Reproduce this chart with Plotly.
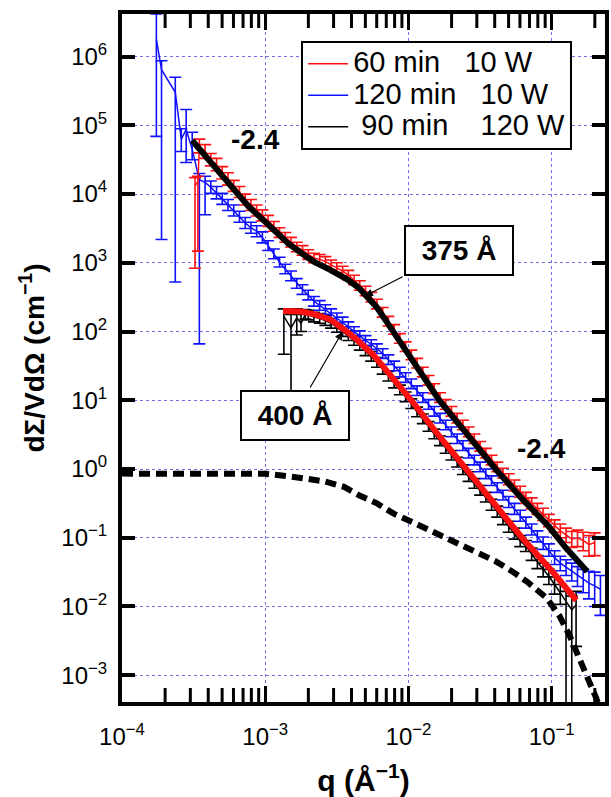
import numpy as np
import plotly.graph_objects as go

FONT = "Liberation Sans, Arial, Helvetica, sans-serif"

# All values below are log10 of q (1/Angstrom) and log10 of dSigma/VdOmega (1/cm).
# Error bar limits are given as decades above / below each point.

# ---- 60 min, 10 W ----
red_logq = [-3.49, -3.47, -3.46, -3.42, -3.38, -3.34, -3.30, -3.26, -3.22, -3.18, -3.14, -3.10,
            -3.06, -3.02, -2.98, -2.94, -2.90, -2.86, -2.82, -2.78, -2.74, -2.70, -2.66, -2.62,
            -2.58, -2.54, -2.50, -2.46, -2.42, -2.38, -2.34, -2.30, -2.26, -2.22, -2.18, -2.14,
            -2.10, -2.06, -2.02, -1.98, -1.94, -1.90, -1.86, -1.82, -1.78, -1.74, -1.70, -1.66,
            -1.62, -1.58, -1.54, -1.50, -1.46, -1.42, -1.38, -1.34, -1.30, -1.26, -1.22, -1.18,
            -1.14, -1.10, -1.06, -1.02, -0.98, -0.94, -0.90, -0.86, -0.82, -0.78, -0.74, -0.70]
red_logI = [4.12, 4.18, 4.70, 4.62, 4.50, 4.43, 4.31, 4.22, 4.12, 4.03, 3.92, 3.84,
            3.76, 3.69, 3.61, 3.53, 3.44, 3.37, 3.30, 3.23, 3.18, 3.12, 3.07, 3.05,
            3.02, 2.97, 2.93, 2.88, 2.82, 2.75, 2.67, 2.59, 2.50, 2.40, 2.28, 2.15,
            2.03, 1.90, 1.78, 1.66, 1.54, 1.41, 1.29, 1.17, 1.04, 0.94, 0.84, 0.74,
            0.64, 0.54, 0.44, 0.33, 0.23, 0.13, 0.03, -0.06, -0.15, -0.24, -0.33, -0.42,
            -0.50, -0.58, -0.66, -0.75, -0.83, -0.90, -0.96, -1.02, -1.00, -1.04, -1.10, -1.07]
red_eplus = [0.12, 0.08, 0.10, 0.10, 0.09, 0.09, 0.09, 0.09, 0.08, 0.08, 0.08, 0.08,
             0.08, 0.08, 0.08, 0.07, 0.07, 0.07, 0.07, 0.07, 0.07, 0.07, 0.07, 0.07,
             0.07, 0.07, 0.07, 0.07, 0.07, 0.07, 0.07, 0.07, 0.07, 0.07, 0.07, 0.07,
             0.07, 0.07, 0.07, 0.07, 0.07, 0.07, 0.07, 0.07, 0.07, 0.07, 0.07, 0.07,
             0.07, 0.07, 0.07, 0.07, 0.07, 0.07, 0.07, 0.07, 0.08, 0.08, 0.08, 0.08,
             0.08, 0.08, 0.09, 0.09, 0.09, 0.10, 0.10, 0.11, 0.11, 0.12, 0.13, 0.14]
red_eminus = [1.20, 1.01, 0.10, 0.10, 0.09, 0.09, 0.09, 0.09, 0.08, 0.08, 0.08, 0.08,
              0.08, 0.08, 0.08, 0.07, 0.07, 0.07, 0.07, 0.07, 0.07, 0.07, 0.07, 0.07,
              0.07, 0.07, 0.07, 0.07, 0.07, 0.07, 0.07, 0.07, 0.07, 0.07, 0.07, 0.07,
              0.07, 0.07, 0.07, 0.07, 0.07, 0.07, 0.07, 0.07, 0.07, 0.07, 0.07, 0.07,
              0.07, 0.07, 0.07, 0.07, 0.07, 0.07, 0.07, 0.07, 0.08, 0.08, 0.08, 0.08,
              0.08, 0.08, 0.09, 0.09, 0.09, 0.10, 0.11, 0.12, 0.13, 0.15, 0.17, 0.19]

# ---- 120 min, 10 W ----
blue_logq = [-3.76, -3.724, -3.628, -3.586, -3.552, -3.51, -3.46, -3.42,
             -3.38, -3.34, -3.30, -3.26, -3.22, -3.18, -3.14, -3.10, -3.06, -3.02,
             -2.98, -2.94, -2.90, -2.86, -2.82, -2.78, -2.74, -2.70, -2.66, -2.62,
             -2.58, -2.54, -2.50, -2.46, -2.42, -2.38, -2.34, -2.30, -2.26, -2.22,
             -2.18, -2.14, -2.10, -2.06, -2.02, -1.98, -1.94, -1.90, -1.86, -1.82,
             -1.78, -1.74, -1.70, -1.66, -1.62, -1.58, -1.54, -1.50, -1.46, -1.42,
             -1.38, -1.34, -1.30, -1.26, -1.22, -1.18, -1.14, -1.10, -1.06, -1.02,
             -0.98, -0.94, -0.90, -0.86, -0.82, -0.78, -0.74, -0.70, -0.66]
blue_logI = [6.25, 5.81, 5.48, 4.80, 4.94, 4.65, 4.21, 4.17,
             4.10, 4.02, 3.93, 3.84, 3.76, 3.67, 3.58, 3.51, 3.46, 3.37,
             3.25, 3.13, 3.01, 2.91, 2.81, 2.70, 2.61, 2.53, 2.44, 2.38,
             2.32, 2.26, 2.20, 2.14, 2.07, 2.00, 1.94, 1.87, 1.81, 1.75,
             1.68, 1.59, 1.50, 1.41, 1.33, 1.24, 1.14, 1.04, 0.94, 0.84,
             0.74, 0.64, 0.54, 0.44, 0.34, 0.23, 0.13, 0.03, -0.07, -0.17,
             -0.27, -0.38, -0.48, -0.58, -0.68, -0.78, -0.88, -0.98, -1.08, -1.18,
             -1.29, -1.37, -1.43, -1.49, -1.55, -1.61, -1.66, -1.70, -1.75]
blue_eplus = [0.37, 0.13, 0.22, 0.15, 0.29, 0.25, 0.09, 0.09,
              0.09, 0.09, 0.08, 0.08, 0.08, 0.08, 0.08, 0.08, 0.08, 0.08,
              0.07, 0.07, 0.07, 0.07, 0.07, 0.07, 0.07, 0.07, 0.07, 0.07,
              0.07, 0.07, 0.07, 0.07, 0.07, 0.07, 0.07, 0.07, 0.07, 0.07,
              0.07, 0.07, 0.07, 0.07, 0.07, 0.07, 0.07, 0.07, 0.07, 0.07,
              0.07, 0.07, 0.07, 0.07, 0.07, 0.07, 0.07, 0.07, 0.07, 0.07,
              0.07, 0.07, 0.08, 0.08, 0.08, 0.08, 0.08, 0.08, 0.09, 0.09,
              0.10, 0.10, 0.11, 0.12, 0.13, 0.15, 0.17, 0.20, 0.20]
blue_eminus = [1.41, 2.47, 2.76, 0.18, 0.48, 0.15, 2.39, 0.47,
               0.09, 0.09, 0.08, 0.08, 0.08, 0.08, 0.08, 0.08, 0.08, 0.08,
               0.07, 0.07, 0.07, 0.07, 0.07, 0.07, 0.07, 0.07, 0.07, 0.07,
               0.07, 0.07, 0.07, 0.07, 0.07, 0.07, 0.07, 0.07, 0.07, 0.07,
               0.07, 0.07, 0.07, 0.07, 0.07, 0.07, 0.07, 0.07, 0.07, 0.07,
               0.07, 0.07, 0.07, 0.07, 0.07, 0.07, 0.07, 0.07, 0.07, 0.07,
               0.07, 0.07, 0.08, 0.08, 0.08, 0.08, 0.08, 0.08, 0.09, 0.09,
               0.10, 0.11, 0.12, 0.14, 0.16, 0.19, 0.23, 0.30, 0.38]

# ---- 90 min, 120 W ----
black_logq = [-2.87, -2.82, -2.78, -2.75, -2.72, -2.70, -2.66, -2.62, -2.58, -2.54,
              -2.50, -2.46, -2.42, -2.38, -2.34, -2.30, -2.26, -2.22, -2.18, -2.14,
              -2.10, -2.06, -2.02, -1.98, -1.94, -1.90, -1.86, -1.82, -1.78, -1.74,
              -1.70, -1.66, -1.62, -1.58, -1.54, -1.50, -1.46, -1.42, -1.38, -1.34,
              -1.30, -1.26, -1.22, -1.18, -1.14, -1.10, -1.06, -1.02, -0.98, -0.94,
              -0.90, -0.86, -0.83]
black_logI = [2.22, 2.05, 2.20, 2.12, 2.25, 2.24, 2.21, 2.19, 2.16, 2.12,
              2.06, 2.00, 1.94, 1.87, 1.80, 1.72, 1.64, 1.55, 1.45, 1.35,
              1.25, 1.15, 1.05, 0.95, 0.83, 0.73, 0.62, 0.51, 0.41, 0.30,
              0.20, 0.10, -0.01, -0.11, -0.21, -0.31, -0.41, -0.52, -0.62, -0.73,
              -0.84, -0.94, -1.05, -1.12, -1.24, -1.35, -1.46, -1.56, -1.68, -1.80,
              -1.93, -2.05, -1.98]
black_eplus = [0.11, 0.20, 0.13, 0.13, 0.07, 0.07, 0.07, 0.07, 0.07, 0.07,
               0.07, 0.07, 0.07, 0.07, 0.07, 0.07, 0.07, 0.07, 0.07, 0.07,
               0.07, 0.07, 0.07, 0.07, 0.07, 0.07, 0.07, 0.07, 0.07, 0.07,
               0.07, 0.07, 0.07, 0.07, 0.07, 0.07, 0.07, 0.08, 0.08, 0.08,
               0.08, 0.08, 0.08, 0.08, 0.09, 0.09, 0.09, 0.10, 0.11, 0.12,
               0.15, 0.20, 0.20]
black_eminus = [0.55, 1.17, 0.25, 0.12, 0.07, 0.07, 0.07, 0.07, 0.07, 0.07,
                0.07, 0.07, 0.07, 0.07, 0.07, 0.07, 0.07, 0.07, 0.07, 0.07,
                0.07, 0.07, 0.07, 0.07, 0.07, 0.07, 0.07, 0.07, 0.07, 0.07,
                0.07, 0.07, 0.07, 0.07, 0.07, 0.07, 0.07, 0.08, 0.08, 0.08,
                0.08, 0.08, 0.08, 0.08, 0.09, 0.10, 0.11, 0.12, 0.14, 0.17,
                1.70, 1.60, 0.60]

# ---- model fits (375 A and 400 A) ----
fit375_logq = [-3.51, -3.30, -3.117, -2.95, -2.84, -2.72, -2.655, -2.55, -2.428, -2.35,
               -2.29, -2.22, -2.152, -2.08, -2.014, -1.90, -1.786, -1.60, -1.393, -1.20,
               -1.028, -0.90, -0.752]
fit375_logI = [4.78, 4.27, 3.82, 3.50, 3.28, 3.10, 3.01, 2.90, 2.76, 2.64,
               2.52, 2.35, 2.14, 1.92, 1.70, 1.36, 1.00, 0.53, 0.00, -0.45,
               -0.82, -1.15, -1.49]
fit400_logq = [-2.876, -2.75, -2.655, -2.55, -2.45, -2.359, -2.241, -2.152, -2.06, -1.98,
               -1.80, -1.60, -1.40, -1.207, -1.00, -0.828]
fit400_logI = [2.30, 2.29, 2.25, 2.18, 2.03, 1.88, 1.65, 1.43, 1.20, 1.00,
               0.52, 0.00, -0.50, -1.00, -1.48, -1.91]

# ---- single-particle form factor (dashed) ----
ff_logq = [-4.0, -3.5, -3.0, -2.82, -2.70, -2.586, -2.45, -2.338, -2.22, -2.103,
           -1.966, -1.752, -1.593, -1.51, -1.393, -1.276, -1.166, -1.034, -0.945, -0.876,
           -0.828, -0.772, -0.724, -0.690, -0.66]
ff_logI = [-0.067, -0.067, -0.07, -0.11, -0.14, -0.18, -0.26, -0.39, -0.50, -0.65,
           -0.78, -0.99, -1.15, -1.21, -1.34, -1.49, -1.65, -1.88, -2.14, -2.42,
           -2.65, -2.90, -3.14, -3.33, -3.52]

x_tick_exp = [-4, -3, -2, -1]
y_tick_exp = [-3, -2, -1, 0, 1, 2, 3, 4, 5, 6]

legend_names = {
    "red": "60&#160;min&#160;&#160;&#160;10&#160;W",
    "blue": "120&#160;min&#160;&#160;&#160;10&#160;W",
    "black": "&#160;90&#160;min&#160;&#160;&#160;&#160;120&#160;W",
}

X_RANGE = [-4, -0.628]
Y_RANGE = [-3.39, 6.62]


def lin(v):
    return 10.0 ** np.asarray(v, dtype=float)


def err_arrays(logI, ep, em):
    y = lin(logI)
    up = lin(np.asarray(logI) + np.asarray(ep)) - y
    dn = y - lin(np.asarray(logI) - np.asarray(em))
    return y, up, dn


def sup(e):
    s = str(e).replace("-", "\u2212")
    return f"10<sup>{s}</sup>"


def big(s):
    return f'<span style="font-size:29px">{s}</span>'


fig = go.Figure()

series = [
    ("black", "black", black_logq, black_logI, black_eplus, black_eminus, 3),
    ("blue", "#1010ff", blue_logq, blue_logI, blue_eplus, blue_eminus, 2),
    ("red", "#ff1010", red_logq, red_logI, red_eplus, red_eminus, 1),
]
for key, color, lq, lI, ep, em, rank in series:
    y, up, dn = err_arrays(lI, ep, em)
    fig.add_trace(go.Scatter(
        x=lin(lq), y=y, mode="lines", name=big(legend_names[key]), legendrank=rank,
        line=dict(color=color, width=1.5),
        error_y=dict(type="data", symmetric=False, array=up, arrayminus=dn,
                     color=color, thickness=1.6, width=6),
    ))

fig.add_trace(go.Scatter(x=lin(fit375_logq), y=lin(fit375_logI), mode="lines",
                         line=dict(color="black", width=6), showlegend=False))
fig.add_trace(go.Scatter(x=lin(fit400_logq), y=lin(fit400_logI), mode="lines",
                         line=dict(color="#ff1010", width=6), showlegend=False))
fig.add_trace(go.Scatter(x=lin(ff_logq), y=lin(ff_logI), mode="lines",
                         line=dict(color="black", width=6, dash="11px,6px"),
                         showlegend=False))

# minor decade ticks (2..9) along the bottom and top frame of the q axis:
# vertical line markers centred on the frame, half of each clipped away by the plot area
minor_q = [m * 10.0 ** e for e in (-4, -3, -2) for m in range(2, 10)] + [0.2]
for edge in Y_RANGE:
    fig.add_trace(go.Scatter(
        x=minor_q, y=[10.0 ** edge] * len(minor_q), mode="markers",
        marker=dict(symbol="line-ns", size=20, color="black",
                    line=dict(width=3, color="black")),
        showlegend=False, hoverinfo="skip", cliponaxis=True,
    ))

fig.update_xaxes(
    type="log", range=X_RANGE,
    tickmode="array", tickvals=lin(x_tick_exp), ticktext=[sup(e) for e in x_tick_exp],
    ticks="inside", ticklen=16, tickwidth=3, tickcolor="black",
    ticklabelstandoff=10,
    showline=True, linewidth=4, linecolor="black", mirror="ticks",
    showgrid=True, gridcolor="#6f6fe8", gridwidth=1, griddash="dot",
    zeroline=False,
    tickfont=dict(size=24, color="black", family=FONT),
    title=dict(text="<b>q (\u00c5<sup>\u22121</sup>)</b>", font=dict(size=30, color="black", family=FONT),
               standoff=24),
)
fig.update_yaxes(
    type="log", range=Y_RANGE,
    tickmode="array", tickvals=lin(y_tick_exp), ticktext=[sup(e) for e in y_tick_exp],
    ticks="inside", ticklen=13, tickwidth=4, tickcolor="black",
    ticklabelstandoff=6,
    showline=True, linewidth=4, linecolor="black", mirror="ticks",
    showgrid=True, gridcolor="#6f6fe8", gridwidth=1, griddash="dot",
    zeroline=False,
    tickfont=dict(size=24, color="black", family=FONT),
    title=dict(text="<b>d\u03a3/Vd\u03a9 (cm<sup>\u22121</sup>)</b>",
               font=dict(size=28, color="black", family=FONT), standoff=10),
)

label_font = dict(size=28, color="black", family=FONT)
annotations = [
    dict(x=-3.069, y=4.795, text="<b>-2.4</b>", showarrow=False, font=label_font),
    dict(x=-1.069, y=0.296, text="<b>-2.4</b>", showarrow=False, font=label_font),
    dict(x=-1.648, y=3.177, text="<b>375 \u00c5</b>", showarrow=False, font=label_font,
         bgcolor="white", bordercolor="black", borderwidth=2, width=104, height=45),
    dict(x=-2.793, y=0.782, text="<b>400 \u00c5</b>", showarrow=False, font=label_font,
         bgcolor="white", bordercolor="black", borderwidth=2, width=104, height=45),
    dict(x=-2.303, y=2.517, ax=39, ay=-20, text="", showarrow=True,
         arrowhead=2, arrowsize=1.3, arrowwidth=1.2, arrowcolor="black"),
    dict(x=-2.462, y=1.994, ax=-33, ay=57, text="", showarrow=True,
         arrowhead=2, arrowsize=1.3, arrowwidth=1.2, arrowcolor="black"),
]
for a in annotations:
    a.update(xref="x", yref="y")

fig.update_layout(
    width=611, height=797,
    margin=dict(l=122, r=2, t=14, b=93),
    paper_bgcolor="white", plot_bgcolor="white",
    font=dict(family=FONT, color="black"),
    annotations=annotations,
    showlegend=True,
    legend=dict(x=0.371, y=0.961, xanchor="left", yanchor="top",
                bgcolor="white", bordercolor="black", borderwidth=2,
                font=dict(size=22, color="black", family=FONT),
                tracegroupgap=0, itemwidth=40),
    hovermode=False,
)

fig.write_html("out.html", config={"displayModeBar": False})
